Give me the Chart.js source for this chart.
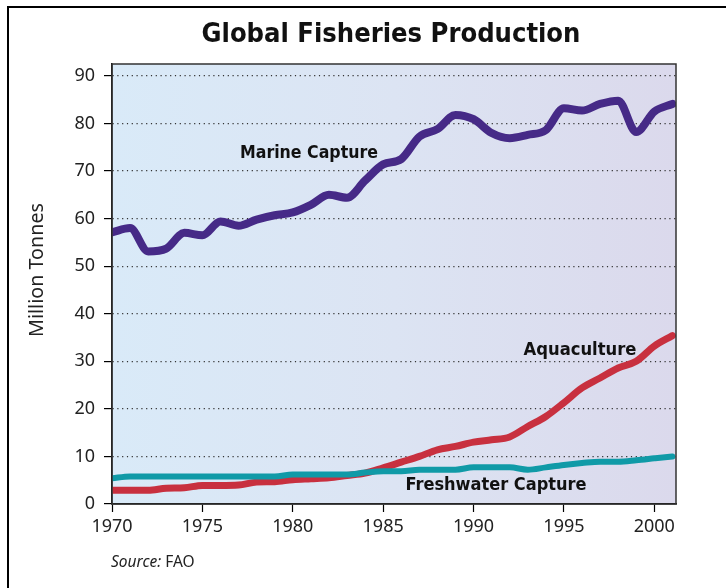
<!DOCTYPE html>
<html>
<head>
<meta charset="utf-8">
<script src="https://cdn.jsdelivr.net/npm/chart.js@4/dist/chart.umd.min.js"></script>
<style>
html,body{margin:0;padding:0;background:#fff;}
#wrap{width:726px;height:588px;position:relative;}
</style>
</head>
<body>
<div id="wrap"><canvas id="c" width="726" height="588"></canvas></div>
<script>
// ---- data ----
const years = [1970,1971,1972,1973,1974,1975,1976,1977,1978,1979,1980,1981,1982,1983,1984,1985,1986,1987,1988,1989,1990,1991,1992,1993,1994,1995,1996,1997,1998,1999,2000,2001];
const marineCapture = [57.1,58.0,53.1,53.7,57.0,56.5,59.4,58.5,59.8,60.7,61.3,62.9,65.0,64.4,68.0,71.4,72.5,77.2,78.8,81.8,80.9,78.0,76.9,77.6,78.6,83.2,82.7,84.1,84.8,78.2,82.5,84.1];
const aquaculture = [2.9,2.9,2.9,3.3,3.4,3.9,3.9,4.0,4.6,4.7,5.1,5.3,5.5,6.0,6.5,7.6,8.8,10.0,11.4,12.1,13.0,13.5,14.1,16.3,18.4,21.3,24.4,26.5,28.6,30.0,33.2,35.4];
const freshwaterCapture = [5.4,5.8,5.8,5.8,5.8,5.8,5.8,5.8,5.8,5.8,6.2,6.2,6.2,6.2,6.6,6.9,6.9,7.2,7.2,7.2,7.7,7.7,7.7,7.2,7.7,8.2,8.6,8.9,8.9,9.2,9.6,10.0];
const xTicks = [1970,1975,1980,1985,1990,1995,2000];
const yTicks = [0,10,20,30,40,50,60,70,80,90];
const titleText = "Global Fisheries Production";
const yTitle = "Million Tonnes";
const seriesLabels = ["Marine Capture","Aquaculture","Freshwater Capture"];

const toXY = arr => years.map((y,i)=>({x:y,y:arr[i]}));

const CONDENSED = '"DejaVu Sans Condensed", "Liberation Sans Narrow", sans-serif';
const TICKFONT = '"Noto Sans", "Open Sans", sans-serif';

function fitFont(ctx, text, weight, family, target){
  ctx.font = weight + ' 20px ' + family;
  const w = ctx.measureText(text).width;
  return weight + ' ' + (20*target/w).toFixed(2) + 'px ' + family;
}

const decor = {
  id:'decor',
  beforeDraw(chart){
    const {ctx, chartArea:a} = chart;
    ctx.save();
    const g = ctx.createLinearGradient(a.left,0,a.right,0);
    g.addColorStop(0,'#d9eaf8');
    g.addColorStop(0.5,'#dce4f3');
    g.addColorStop(1,'#dbd9ec');
    ctx.fillStyle = g;
    ctx.fillRect(a.left,a.top,a.right-a.left,a.bottom-a.top);
    ctx.restore();
  },
  afterDatasetsDraw(chart){
    const {ctx, chartArea:a} = chart;
    ctx.save();
    ctx.strokeStyle = '#333';
    ctx.lineWidth = 1.5;
    ctx.strokeRect(a.left,a.top,a.right-a.left,a.bottom-a.top);
    ctx.fillStyle = '#111';
    ctx.textAlign = 'center';
    ctx.textBaseline = 'middle';
    ctx.font = fitFont(ctx, seriesLabels[0], 'bold', CONDENSED, 138);
    ctx.fillText(seriesLabels[0], 309, 153);
    ctx.font = fitFont(ctx, seriesLabels[1], 'bold', CONDENSED, 113);
    ctx.fillText(seriesLabels[1], 580, 350);
    ctx.font = fitFont(ctx, seriesLabels[2], 'bold', CONDENSED, 181);
    ctx.fillText(seriesLabels[2], 496, 485);
    ctx.restore();
  },
  afterDraw(chart){
    const {ctx} = chart;
    ctx.save();
    ctx.strokeStyle = '#000';
    ctx.lineWidth = 2;
    ctx.beginPath();
    ctx.moveTo(8,588); ctx.lineTo(8,7); ctx.lineTo(726,7);
    ctx.stroke();
    ctx.fillStyle = '#111';
    ctx.textAlign = 'center';
    ctx.textBaseline = 'middle';
    ctx.font = fitFont(ctx, titleText, 'bold', CONDENSED, 379);
    ctx.fillText(titleText, 391, 35);
    ctx.save();
    ctx.translate(37,270);
    ctx.rotate(-Math.PI/2);
    ctx.font = fitFont(ctx, yTitle, 'normal', TICKFONT, 134);
    ctx.fillStyle = '#222';
    ctx.fillText(yTitle, 0, 0);
    ctx.restore();
    ctx.textAlign = 'left';
    ctx.fillStyle = '#222';
    ctx.font = 'italic 15.5px ' + TICKFONT;
    ctx.fillText('Source:', 111, 563);
    const w = ctx.measureText('Source: ').width;
    ctx.font = 'normal 15.5px ' + TICKFONT;
    ctx.fillText('FAO', 111 + w, 563);
    ctx.restore();
  }
};

const common = {fill:false, pointRadius:0, borderCapStyle:'round', borderJoinStyle:'round', cubicInterpolationMode:'monotone', clip:0};

new Chart(document.getElementById('c'), {
  type:'line',
  data:{
    datasets:[
      Object.assign({label:seriesLabels[0], data:toXY(marineCapture), borderColor:'#462a87', borderWidth:8}, common),
      Object.assign({label:seriesLabels[2], data:toXY(freshwaterCapture), borderColor:'#109aa7', borderWidth:6}, common),
      Object.assign({label:seriesLabels[1], data:toXY(aquaculture), borderColor:'#c8303f', borderWidth:7}, common)
    ]
  },
  options:{
    responsive:false,
    animation:false,
    layout:{padding:{left:0, top:64, right:50, bottom:0}},
    plugins:{legend:{display:false}, title:{display:false}, tooltip:{enabled:false}},
    scales:{
      x:{
        type:'linear', min:1970, max:2001.2,
        afterBuildTicks(s){ s.ticks = xTicks.map(v=>({value:v})); },
        afterFit(s){ s.height = 84; },
        ticks:{color:'#222', font:{family:TICKFONT, size:18}, padding:4, maxRotation:0, callback:v=>String(v)},
        grid:{drawOnChartArea:false, drawTicks:true, tickLength:8, tickColor:'#000', tickWidth:1.2},
        border:{display:true, color:'#000', width:1.5}
      },
      y:{
        type:'linear', min:0, max:92.5,
        afterBuildTicks(s){ s.ticks = yTicks.map(v=>({value:v})); },
        afterFit(s){ s.width = 112; },
        ticks:{color:'#222', font:{family:TICKFONT, size:18}, padding:9, callback:v=>String(v)},
        grid:{drawOnChartArea:true, drawTicks:true, tickLength:8, tickColor:'#000', tickWidth:1.2, tickBorderDash:[],
              color:(c)=> c.tick && c.tick.value===0 ? 'rgba(0,0,0,0)' : '#333', lineWidth:1.2},
        border:{display:true, color:'#000', width:1.5, dash:[1.2,3.6]}
      }
    }
  },
  plugins:[decor]
});
</script>
</body>
</html>
